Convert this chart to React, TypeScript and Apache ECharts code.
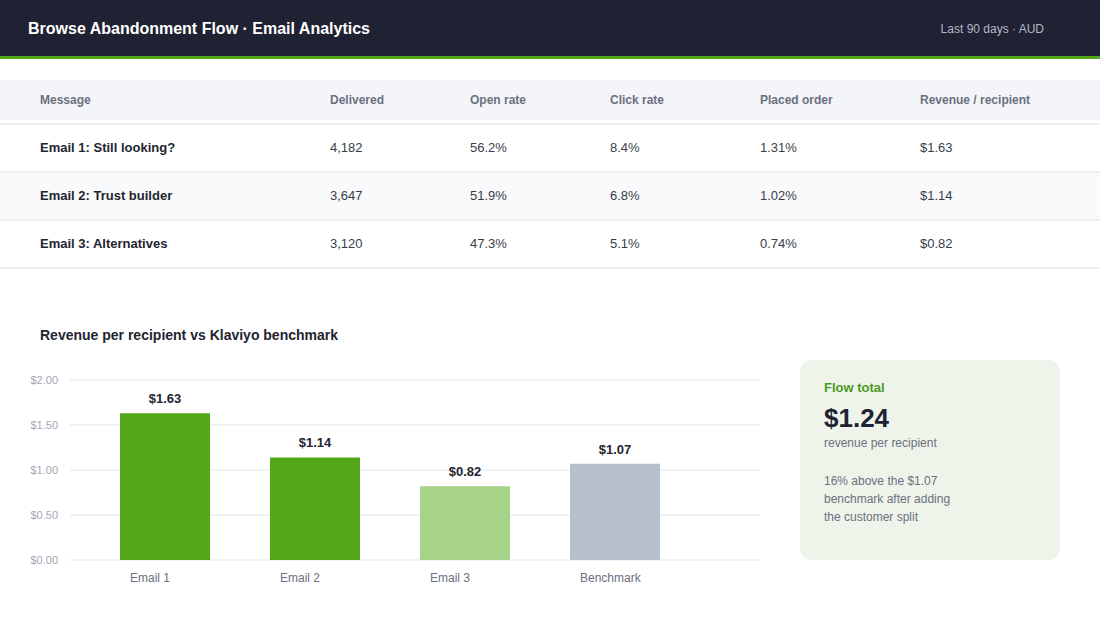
import React, { useEffect, useRef } from "react";
import * as echarts from "echarts";

const tableColumns = ["Message", "Delivered", "Open rate", "Click rate", "Placed order", "Revenue / recipient"];
const messages = ["Email 1: Still looking?", "Email 2: Trust builder", "Email 3: Alternatives"];
const delivered = ["4,182", "3,647", "3,120"];
const openRates = ["56.2%", "51.9%", "47.3%"];
const clickRates = ["8.4%", "6.8%", "5.1%"];
const placedOrders = ["1.31%", "1.02%", "0.74%"];
const revenuePerRecipient = ["$1.63", "$1.14", "$0.82"];

const barCategories = ["Email 1", "Email 2", "Email 3", "Benchmark"];
const barValues = [1.63, 1.14, 0.82, 1.07];

const FONT = "'Liberation Sans', Arial, Helvetica, sans-serif";

export default function App() {
  const ref = useRef<HTMLDivElement>(null);
  useEffect(() => {
    document.body.style.margin = "0";
    if (!ref.current) return;
    const chart = echarts.init(ref.current, undefined, { renderer: "svg" });

    const colX = [40, 330, 470, 610, 760, 920];
    const rowsCols = [messages, delivered, openRates, clickRates, placedOrders, revenuePerRecipient];
    const graphics: any[] = [];
    // header
    graphics.push({ type: "rect", shape: { x: 0, y: 0, width: 1100, height: 56 }, style: { fill: "#1f2233" }, silent: true });
    graphics.push({ type: "rect", shape: { x: 0, y: 56, width: 1100, height: 3 }, style: { fill: "#52a819" }, silent: true });
    graphics.push({ type: "text", x: 28, y: 28, style: { text: "Browse Abandonment Flow · Email Analytics", fill: "#ffffff", font: `bold 16px ${FONT}`, textVerticalAlign: "middle" } });
    graphics.push({ type: "text", x: 1044, y: 29, style: { text: "Last 90 days · AUD", fill: "#b4b8c6", font: `12px ${FONT}`, textAlign: "right", textVerticalAlign: "middle" } });
    // table header
    graphics.push({ type: "rect", shape: { x: 0, y: 80, width: 1100, height: 40 }, style: { fill: "#f4f5f8" } });
    tableColumns.forEach((c, i) => {
      graphics.push({ type: "text", x: colX[i], y: 100, style: { text: c, fill: "#6b7080", font: `600 12px ${FONT}`, textVerticalAlign: "middle" } });
    });
    // rows
    const rowTop = [124, 172, 220];
    rowTop.forEach((t, r) => {
      if (r === 1) graphics.push({ type: "rect", shape: { x: 0, y: t, width: 1100, height: 48 }, style: { fill: "#f9fafb" } });
      graphics.push({ type: "rect", shape: { x: 0, y: t - 1, width: 1100, height: 2 }, style: { fill: "#eceef2" } });
      rowsCols.forEach((col, i) => {
        graphics.push({
          type: "text", x: colX[i], y: t + 23,
          style: { text: col[r], fill: i === 0 ? "#22252f" : "#3a3d48", font: `${i === 0 ? "bold " : ""}13px ${FONT}`, textVerticalAlign: "middle" },
        });
      });
    });
    graphics.push({ type: "rect", shape: { x: 0, y: 267, width: 1100, height: 2 }, style: { fill: "#eceef2" } });
    // chart title
    graphics.push({ type: "text", x: 40, y: 335, style: { text: "Revenue per recipient vs Klaviyo benchmark", fill: "#22252f", font: `bold 14px ${FONT}`, textVerticalAlign: "middle" } });
    // card
    graphics.push({ type: "rect", shape: { x: 800, y: 360, width: 260, height: 200, r: 12 }, style: { fill: "#eff4ea" } });
    graphics.push({ type: "text", x: 824, y: 387, style: { text: "Flow total", fill: "#4b9a1c", font: `600 13px ${FONT}`, textVerticalAlign: "middle" } });
    graphics.push({ type: "text", x: 824, y: 418, style: { text: "$1.24", fill: "#1f2233", font: `bold 26px ${FONT}`, textVerticalAlign: "middle" } });
    graphics.push({ type: "text", x: 824, y: 443, style: { text: "revenue per recipient", fill: "#6b7080", font: `12px ${FONT}`, textVerticalAlign: "middle" } });
    ["16% above the $1.07", "benchmark after adding", "the customer split"].forEach((l, i) => {
      graphics.push({ type: "text", x: 824, y: 481 + i * 18, style: { text: l, fill: "#6b7080", font: `12px ${FONT}`, textVerticalAlign: "middle" } });
    });

    const barColors = ["#52a819", "#52a819", "#a6d388", "#b8bfcc"];

    chart.setOption({
      animation: false,
      textStyle: { fontFamily: FONT },
      grid: [
        { left: 70, right: 340, top: 380, bottom: 80 },
        { left: 90, width: 600, top: 380, bottom: 80 },
      ],
      xAxis: [
        { type: "category", gridIndex: 0, data: barCategories, show: false },
        {
          type: "category", gridIndex: 1, data: barCategories,
          axisLine: { show: false }, axisTick: { show: false },
          axisLabel: {
            color: "#6b7080", fontSize: 12, margin: 12,
            formatter: "{a|{value}}",
            rich: { a: { width: 70, align: "left", color: "#6b7080", fontSize: 12, fontFamily: FONT } },
          },
        },
      ],
      yAxis: [
        {
          type: "value", gridIndex: 0, min: 0, max: 2, interval: 0.5,
          axisLine: { show: false }, axisTick: { show: false },
          splitLine: { lineStyle: { color: "#eceef2", width: 1.5 } },
          axisLabel: { color: "#a3a7b3", fontSize: 11, margin: 12, formatter: (v: number) => "$" + v.toFixed(2) },
        },
        { type: "value", gridIndex: 1, min: 0, max: 2, interval: 0.5, show: false },
      ],
      series: [
        {
          type: "bar", xAxisIndex: 1, yAxisIndex: 1, barWidth: 90,
          data: barValues.map((v, i) => ({ value: v, itemStyle: { color: barColors[i] } })),
          label: {
            show: true, position: "top", distance: 8, color: "#22252f", fontSize: 13, fontWeight: "bold",
            formatter: (p: any) => "$" + p.value.toFixed(2),
          },
        },
      ],
      graphic: graphics,
    });
    return () => chart.dispose();
  }, []);
  return <div ref={ref} style={{ position: "absolute", left: 0, top: 0, width: 1100, height: 640, background: "#ffffff" }} />;
}
